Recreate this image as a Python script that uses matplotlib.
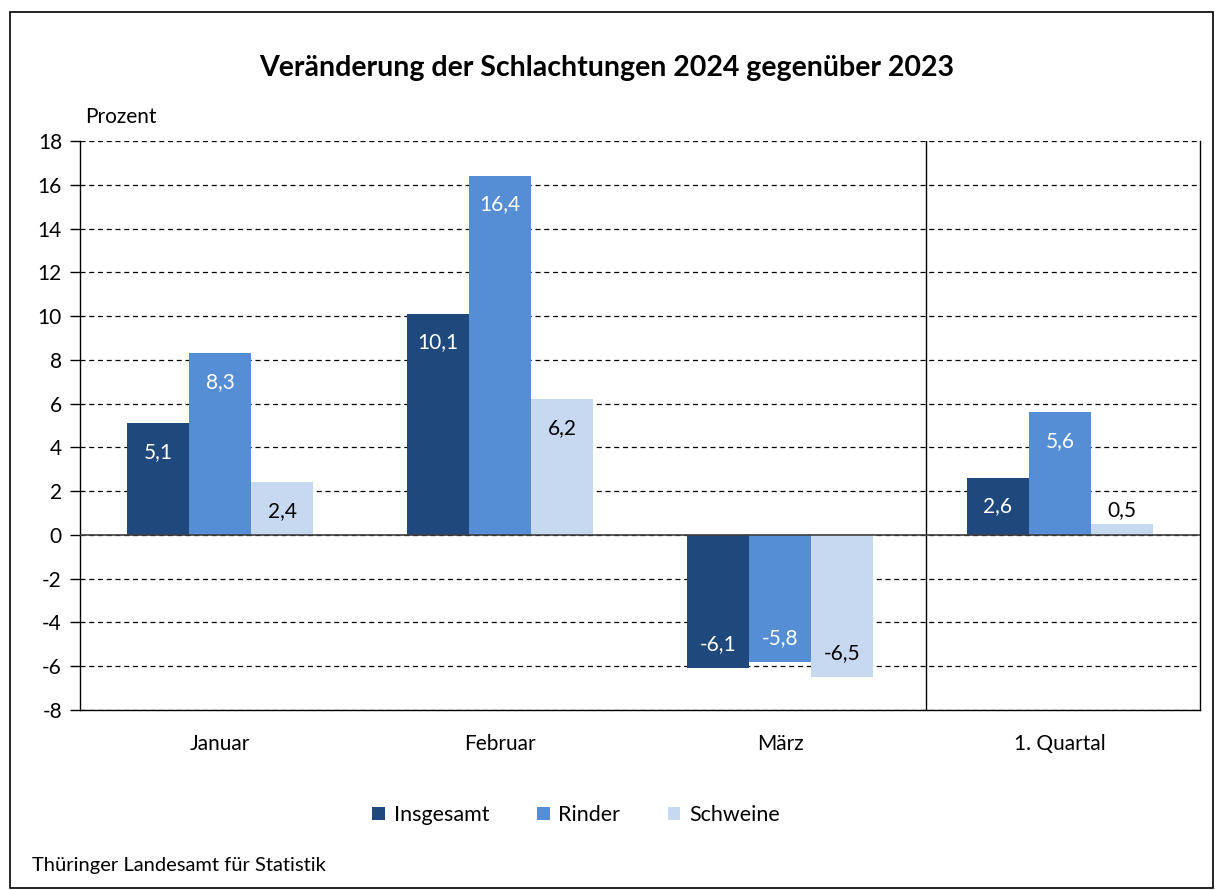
import numpy as np
import matplotlib.pyplot as plt
from matplotlib.patches import Rectangle

kategorien = ["Januar", "Februar", "März", "1. Quartal"]
insgesamt = [5.1, 10.1, -6.1, 2.6]
rinder = [8.3, 16.4, -5.8, 5.6]
schweine = [2.4, 6.2, -6.5, 0.5]

serien = ["Insgesamt", "Rinder", "Schweine"]
farben = ["#1F497D", "#558ED5", "#C6D9F1"]
textfarben = ["white", "white", "black"]

plt.rcParams['font.family'] = ['Lato', 'DejaVu Sans']

fig = plt.figure(figsize=(12.15, 8.9), dpi=100)
ax = fig.add_axes([80/1215, 1 - 710/890, 1120/1215, 569/890])

x = np.arange(len(kategorien))
breite = 0.222
werte = [insgesamt, rinder, schweine]
for i, (name, w) in enumerate(zip(serien, werte)):
    pos = x + (i - 1) * breite
    ax.bar(pos, w, width=breite, color=farben[i], label=name, zorder=3)
    for xp, v in zip(pos, w):
        farbe = textfarben[i]
        if v >= 2:
            yp = v - 1.3
        elif v >= 0:
            yp = v + 0.65
            farbe = "black"
        else:
            yp = v + 1.1
        ax.text(xp, yp, f"{v:.1f}".replace(".", ","), ha="center", va="center",
                color=farbe, fontsize=15, zorder=4)

ax.set_xlim(-0.5, 3.5)
ax.set_ylim(-8, 18)
ax.set_yticks(range(-8, 19, 2))
ax.set_yticklabels([str(t) for t in range(-8, 19, 2)], fontsize=15)
ax.yaxis.grid(True, linestyle=(0, (4, 3)), color="black", linewidth=0.9, zorder=0)
ax.axhline(0, color="#404040", linewidth=1.2, zorder=5)
ax.axvline(2.52, color="black", linewidth=1, zorder=1)
ax.spines["top"].set_visible(False)
for s in ["left", "right", "bottom"]:
    ax.spines[s].set_linewidth(1)
ax.tick_params(axis="y", length=7, width=1, pad=6)
ax.set_xticks(x)
ax.set_xticklabels(kategorien, fontsize=15)
ax.tick_params(axis="x", length=0, pad=17)

fig.text(607/1215, 1 - 68/890, "Veränderung der Schlachtungen 2024 gegenüber 2023",
         ha="center", va="center", fontsize=20.5, fontweight="bold")
fig.text(85/1215, 1 - 117/890, "Prozent", ha="left", va="center", fontsize=15)
fig.text(32/1215, 1 - 865/890, "Thüringer Landesamt für Statistik", ha="left",
         va="center", fontsize=14.5)

fig.legend(loc="center", bbox_to_anchor=(576/1215, 1 - 815/890), ncol=3,
           frameon=False, fontsize=15.5, handlelength=0.6, handleheight=0.6,
           columnspacing=2.2, handletextpad=0.4)

fig.patches.append(Rectangle((10/1215, 0.002), 1203/1215, 1 - 12/890 - 0.002,
                             transform=fig.transFigure, fill=False,
                             edgecolor="black", linewidth=1.2))

plt.savefig("out.png", dpi=100)
